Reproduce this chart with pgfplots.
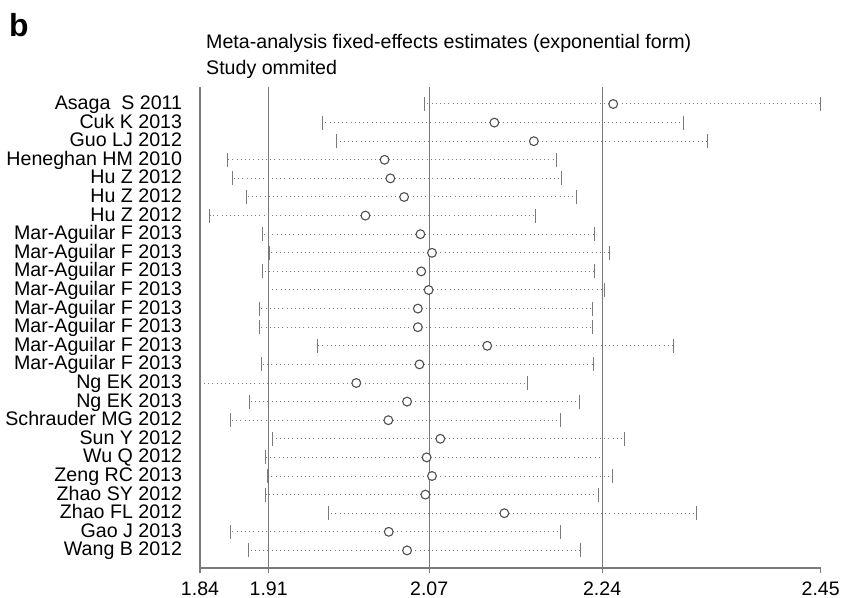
\documentclass[border=0pt]{standalone}
\usepackage{pgfplots}
\pgfplotsset{compat=1.18}
\usepackage{pgfplotstable}
\usepackage{fontspec}
\setmainfont{Liberation Sans}
\definecolor{refgray}{HTML}{7A7A7A}
\definecolor{dotgray}{HTML}{7C7C7C}
\definecolor{circgray}{HTML}{505050}
\pgfplotstableread{
y est lo hi
25 2.2461 2.0602 2.4500
24 2.1293 1.9601 2.3148
23 2.1681 1.9744 2.3389
22 2.0214 1.8670 2.1906
21 2.0271 1.8719 2.1951
20 2.0406 1.8858 2.2102
19 2.0026 1.8498 2.1693
18 2.0566 1.9013 2.2274
17 2.0680 1.9086 2.2425
16 2.0574 1.9013 2.2278
15 2.0647 1.9070 2.2376
14 2.0541 1.8984 2.2253
13 2.0541 1.8984 2.2253
12 2.1223 1.9556 2.3054
11 2.0557 1.9001 2.2269
10 1.9936 1.8400 2.1620
9 2.0435 1.8886 2.2130
8 2.0251 1.8702 2.1938
7 2.0762 1.9115 2.2572
6 2.0627 1.9046 2.2355
5 2.0680 1.9066 2.2449
4 2.0615 1.9046 2.2318
3 2.1391 1.9667 2.3283
2 2.0255 1.8702 2.1943
1 2.0435 1.8874 2.2143
}\studies
\begin{document}
\begin{tikzpicture}
\path[use as bounding box] (-200bp,-30bp) rectangle (643bp,568bp);
\begin{axis}[
  at={(0,0)}, anchor=south west,
  scale only axis, width=620.7bp, height=481.3bp,
  xmin=1.84, xmax=2.45, ymin=0.054, ymax=25.93,
  clip=false,
  axis x line*=bottom, axis y line*=left,
  axis line style={-, draw=refgray, line width=1.1bp},
  xtick={1.84,1.9075,2.0652,2.2352,2.45},
  xticklabels={1.84,1.91,2.07,2.24,2.45},
  tick align=outside,
  major tick length=5bp,
  xtick style={draw=refgray, line width=1.1bp},
  ytick={1,...,25},
  yticklabels={Wang B 2012, Gao J 2013\ , Zhao FL 2012, Zhao SY 2012, Zeng RC 2013, Wu Q 2012, Sun Y 2012, Schrauder MG 2012, Ng EK 2013, Ng EK 2013,
    Mar-Aguilar F 2013\ , Mar-Aguilar F 2013\ , Mar-Aguilar F 2013\ , Mar-Aguilar F 2013\ , Mar-Aguilar F 2013\ , Mar-Aguilar F 2013\ , Mar-Aguilar F 2013\ , Mar-Aguilar F 2013\ ,
    Hu Z 2012, Hu Z 2012, Hu Z 2012, Heneghan HM 2010, Guo LJ 2012\ , Cuk K 2013, Asaga\ \ S 2011},
  ytick style={draw=none},
  yticklabel style={anchor=base east, inner sep=0pt, xshift=-12.7bp, yshift=-5.5bp, font=\fontsize{19.7}{22}\selectfont},
  xticklabel style={anchor=north, inner sep=0pt, text height=13.5bp, text depth=0pt, yshift=-8.5bp, font=\fontsize{19.6}{22}\selectfont},
]
\addplot[dotgray, only marks, mark=none,
  error bars/.cd, x dir=both, x explicit, error mark=none,
  error bar style={dotgray, line width=1bp, dash pattern=on 1bp off 3.2bp}]
  table[x=est, y=y, x error plus expr=\thisrow{hi}-\thisrow{est}, x error minus expr=\thisrow{est}-\thisrow{lo}] {\studies};
\addplot[only marks, mark=|, mark size=7bp, mark options={draw=refgray, line width=1bp}] table[x=lo, y=y] {\studies};
\addplot[only marks, mark=|, mark size=7bp, mark options={draw=refgray, line width=1bp}] table[x=hi, y=y] {\studies};
\addplot[only marks, mark=*, mark size=4.4bp, mark options={draw=circgray, fill=white, line width=1.1bp}] table[x=est, y=y] {\studies};
\addplot[refgray, line width=1.1bp] coordinates {(1.9075,0.054) (1.9075,25.93)};
\addplot[refgray, line width=1.1bp] coordinates {(2.0652,0.054) (2.0652,25.93)};
\addplot[refgray, line width=1.1bp] coordinates {(2.2352,0.054) (2.2352,25.93)};
\end{axis}
\node[anchor=base west, inner sep=0pt, font=\fontsize{19.7}{22}\selectfont] at (6bp,519.5bp) {Meta-analysis fixed-effects estimates (exponential form)};
\node[anchor=base west, inner sep=0pt, font=\fontsize{19.7}{22}\selectfont] at (6bp,493bp) {Study ommited};
\node[anchor=base west, inner sep=0pt, font=\fontsize{32}{36}\selectfont\bfseries] at (-191bp,531bp) {b};
\end{tikzpicture}
\end{document}
